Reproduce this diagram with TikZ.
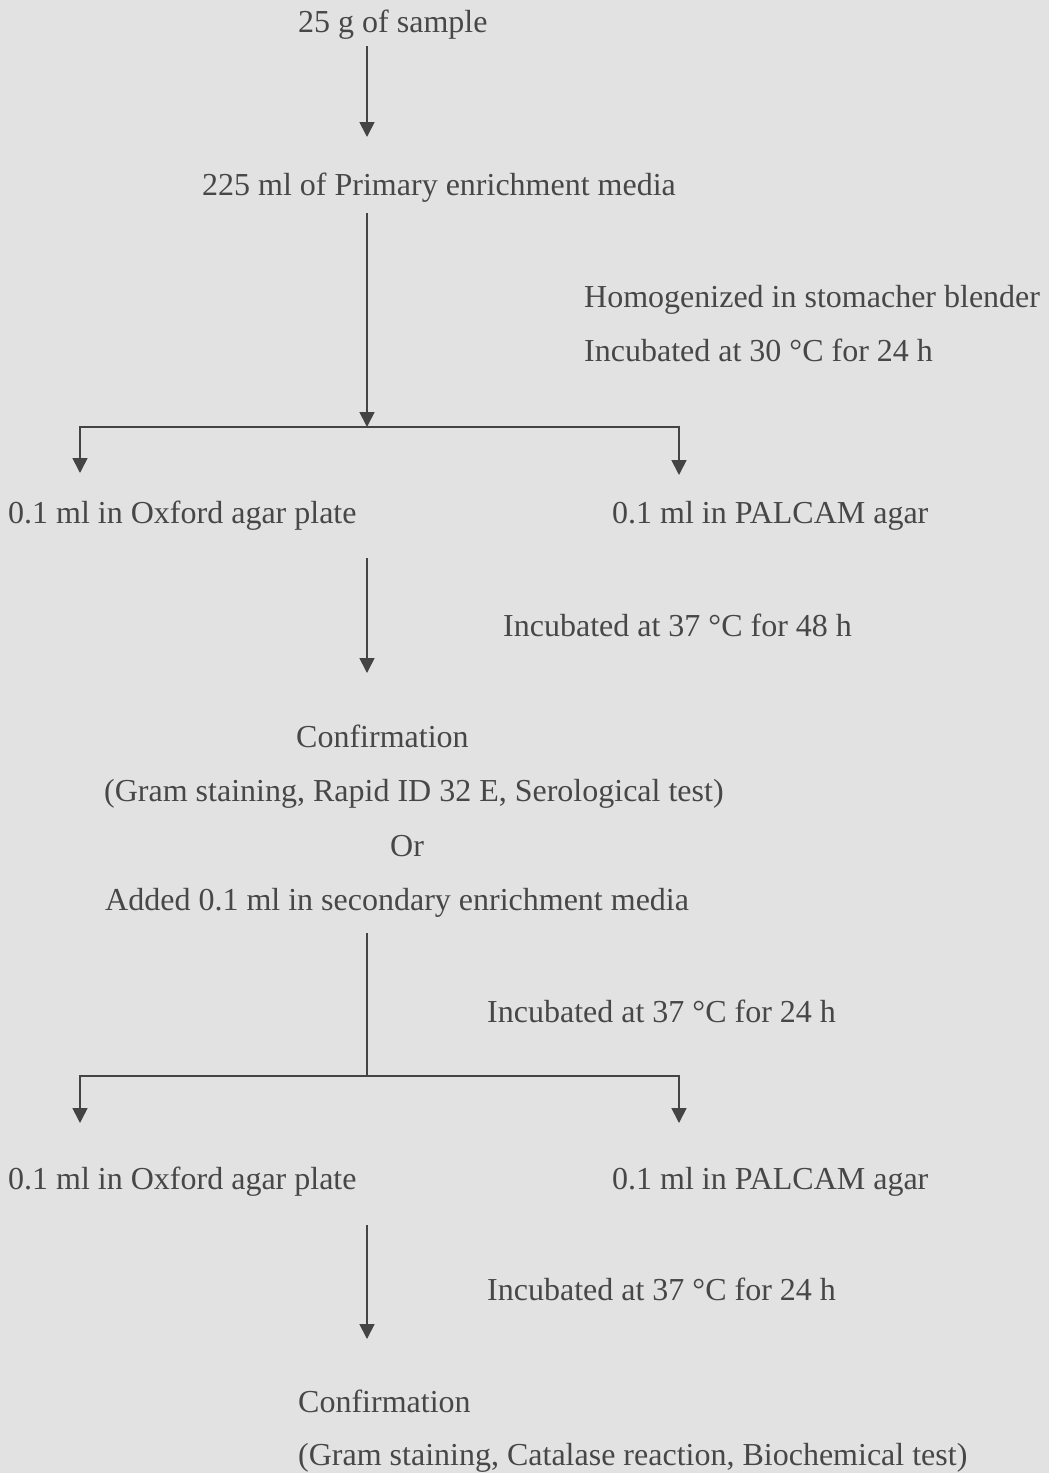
\documentclass[tikz,border=0pt]{standalone}
\usepackage{fontspec}
\setmainfont{Liberation Serif}
\usetikzlibrary{arrows.meta}
\definecolor{bg}{HTML}{E2E2E2}
\definecolor{ink}{HTML}{474747}
\definecolor{linec}{HTML}{444444}
\tikzset{
  lbl/.style={anchor=base west, inner sep=0pt, text=ink, font=\fontsize{32}{38}\selectfont},
  conn/.style={draw=linec, line width=1.7pt},
  arr/.style={conn, -{Triangle[width=15pt,length=15pt]}}
}
\begin{document}
\begin{tikzpicture}[x=1pt,y=-1pt]
\fill[bg] (0,0) rectangle (1049,1473);
\useasboundingbox (0,0) rectangle (1049,1473);

% texts
\node[lbl] (sample)  at (298,32)   {25 g of sample};
\node[lbl] (primary) at (202,195)  {225 ml of Primary enrichment media};
\node[lbl] (homog)   at (584,307)  {Homogenized in stomacher blender};
\node[lbl] (inc30)   at (584,361)  {Incubated at 30 °C for 24 h};
\node[lbl] (ox1)     at (8,523)    {0.1 ml in Oxford agar plate};
\node[lbl] (pal1)    at (612,523)  {0.1 ml in PALCAM agar};
\node[lbl] (inc48)   at (503,636)  {Incubated at 37 °C for 48 h};
\node[lbl] (conf1)   at (296,747)  {Confirmation};
\node[lbl] (gram1)   at (104,801)  {(Gram staining, Rapid ID 32 E, Serological test)};
\node[lbl] (or)      at (390,856)  {Or};
\node[lbl] (added)   at (105,910)  {Added 0.1 ml in secondary enrichment media};
\node[lbl] (inc24a)  at (487,1022) {Incubated at 37 °C for 24 h};
\node[lbl] (ox2)     at (8,1189)   {0.1 ml in Oxford agar plate};
\node[lbl] (pal2)    at (612,1189) {0.1 ml in PALCAM agar};
\node[lbl] (inc24b)  at (487,1300) {Incubated at 37 °C for 24 h};
\node[lbl] (conf2)   at (298,1412) {Confirmation};
\node[lbl] (gram2)   at (298,1465) {(Gram staining, Catalase reaction, Biochemical test)};

% connector end points
\coordinate (a1s) at (367,46);
\coordinate (a1e) at (367,137);
\coordinate (a2s) at (367,213);
\coordinate (j1)  at (367,427);
\coordinate (l1)  at (80,473);
\coordinate (r1)  at (679,475);
\coordinate (a3s) at (367,558);
\coordinate (a3e) at (367,673);
\coordinate (a4s) at (367,933);
\coordinate (j2)  at (367,1076);
\coordinate (l2)  at (80,1123);
\coordinate (r2)  at (679,1123);
\coordinate (a5s) at (367,1225);
\coordinate (a5e) at (367,1339);

% connectors
\draw[arr] (a1s) -- (a1e);
\draw[arr] (a2s) -- (j1);
\draw[arr] (j1) -| (l1);
\draw[arr] (j1) -| (r1);
\draw[arr] (a3s) -- (a3e);
\draw[conn] (a4s) -- (j2);
\draw[arr] (j2) -| (l2);
\draw[arr] (j2) -| (r2);
\draw[arr] (a5s) -- (a5e);
\end{tikzpicture}
\end{document}
